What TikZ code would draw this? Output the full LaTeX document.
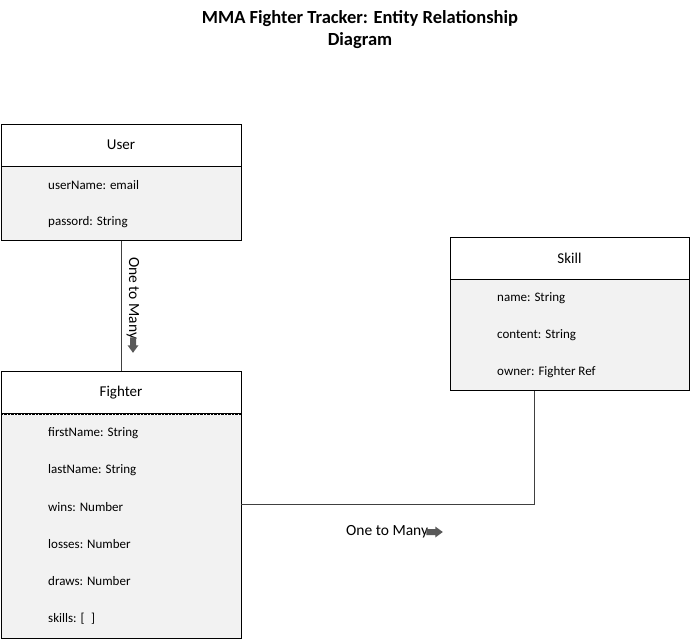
\documentclass[tikz,border=0pt]{standalone}
\usepackage{fontspec}
\setmainfont{Carlito}
\usetikzlibrary{positioning}

\tikzset{
  head/.style={draw, fill=white, minimum width=240, minimum height=42, inner sep=0, font=\fontsize{15}{16}\selectfont},
  body/.style={draw, fill=black!5, minimum width=240, anchor=north, inner sep=0},
  attr/.style={anchor=west, inner sep=0, font=\fontsize{13}{14}\selectfont},
  rel/.style={font=\fontsize{15.5}{17}\selectfont, inner sep=0},
  flow/.style={fill=black!65},
  link/.style={draw=black!75}
}

\begin{document}
\begin{tikzpicture}[x=1pt, y=-1pt]
	\useasboundingbox (0,0) rectangle (691,639);
	
	\node[font=\fontsize{18.5}{22}\selectfont\bfseries, align=center] (title) at (360,29.5) {MMA Fighter Tracker: Entity Relationship\\Diagram};
	
	% entities
	\node[head] (user) at (121,145) {User};
	\node[body, minimum height=74] (userbody) at (user.south) {};
	\node[head] (fighter) at (121,392.5) {Fighter};
	\node[body, minimum height=224] (fighterbody) at (fighter.south) {};
	\node[head, minimum width=239] (skill) at (569.5,258) {Skill};
	\node[body, minimum width=239, minimum height=111] (skillbody) at (skill.south) {};
	\draw[white] (fighter.south west) -- (fighter.south east);
	\draw[densely dotted] (fighter.south west) -- (fighter.south east);
	
	% attributes
	\foreach \y/\txt in {185.5/userName: email, 222.5/passord: String}
		\node[attr] at (48,\y) {\txt};
	\foreach \y/\txt in {433.5/firstName: String, 470.5/lastName: String, 507.5/wins: Number, 544.5/losses: Number, 581.5/draws: Number, 619/skills: [\enspace]}
		\node[attr] at (48,\y) {\txt};
	\foreach \y/\txt in {298.5/name: String, 335.5/content: String, 372.5/owner: Fighter Ref}
		\node[attr] at (497,\y) {\txt};
	
	% relations
	\draw[link] (userbody.south) -- (fighter.north);
	\draw[link] (fighterbody.east |- 0,504) -| (skillbody.south -| 534,0);
	
	\node[rel, rotate=-90, anchor=west] (rel1) at (133,257) {One to Many};
	\fill[flow] (rel1.east) ++(-3,-2) -- ++(6,0) -- ++(0,8) -- ++(2.5,0) -- ++(-5.5,7.5) -- ++(-5.5,-7.5) -- ++(2.5,0) -- cycle;
	\node[rel, anchor=west] (rel2) at (346,532) {One to Many};
	\fill[flow] (rel2.east) ++(-2,-3) -- ++(9,0) -- ++(0,-2.5) -- ++(7.5,5.5) -- ++(-7.5,5.5) -- ++(0,-2.5) -- ++(-9,0) -- cycle;
\end{tikzpicture}
\end{document}
